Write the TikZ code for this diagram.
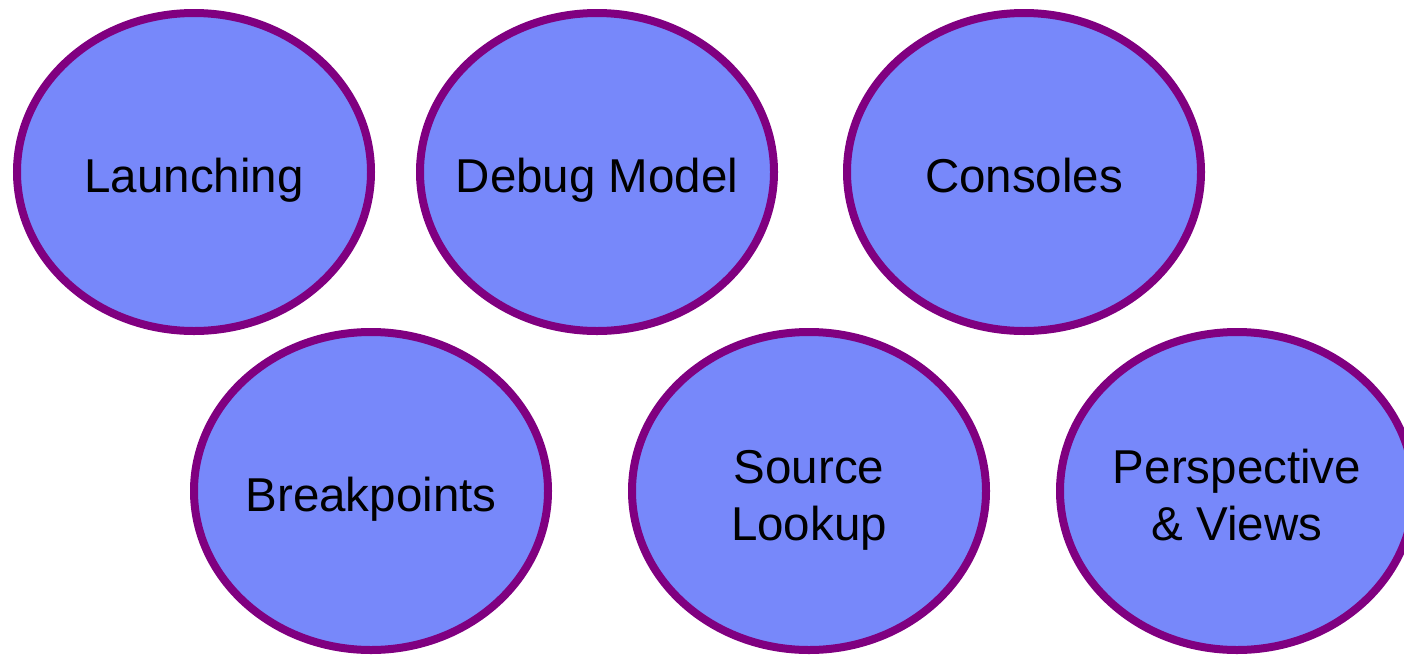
\documentclass[tikz,border=0pt]{standalone}
\usepackage{fontspec}
\setmainfont{Liberation Sans}
\usetikzlibrary{shapes.geometric}
\definecolor{bubblefill}{RGB}{119,136,250}
\definecolor{bubbleline}{RGB}{128,0,128}
\tikzset{
  topic/.style={ellipse, draw=bubbleline, fill=bubblefill, line width=8pt,
    minimum width=354pt, minimum height=318pt, inner sep=0pt},
  caption/.style={align=center, inner sep=0pt, anchor=base,
    font=\fontsize{47.5}{57}\selectfont, text=black}
}
\begin{document}
\begin{tikzpicture}[x=1pt,y=-1pt]
\useasboundingbox (0,0) rectangle (1404,654);
\clip (0,0) rectangle (1404,654);
% bubbles
\node[topic] (launch) at (194,172) {};
\node[topic] (model)  at (597,172) {};
\node[topic] (cons)   at (1024,172) {};
\node[topic] (bp)     at (371,491) {};
\node[topic] (src)    at (809,491) {};
\node[topic] (persp)  at (1237,491) {};
% captions (base = baseline of the last line)
\node[caption] (launch-t) at ([yshift=-20pt]launch.center) {Launching};
\node[caption] (model-t)  at ([yshift=-20pt]model.center)  {Debug Model};
\node[caption] (cons-t)   at ([yshift=-20pt]cons.center)   {Consoles};
\node[caption] (bp-t)     at ([yshift=-20pt]bp.center)     {Breakpoints};
\node[caption] (src-t)    at ([yshift=-49pt]src.center)    {Source\\Lookup};
\node[caption] (persp-t)  at ([yshift=-49pt]persp.center)  {Perspective\\\& Views};
\end{tikzpicture}
\end{document}
